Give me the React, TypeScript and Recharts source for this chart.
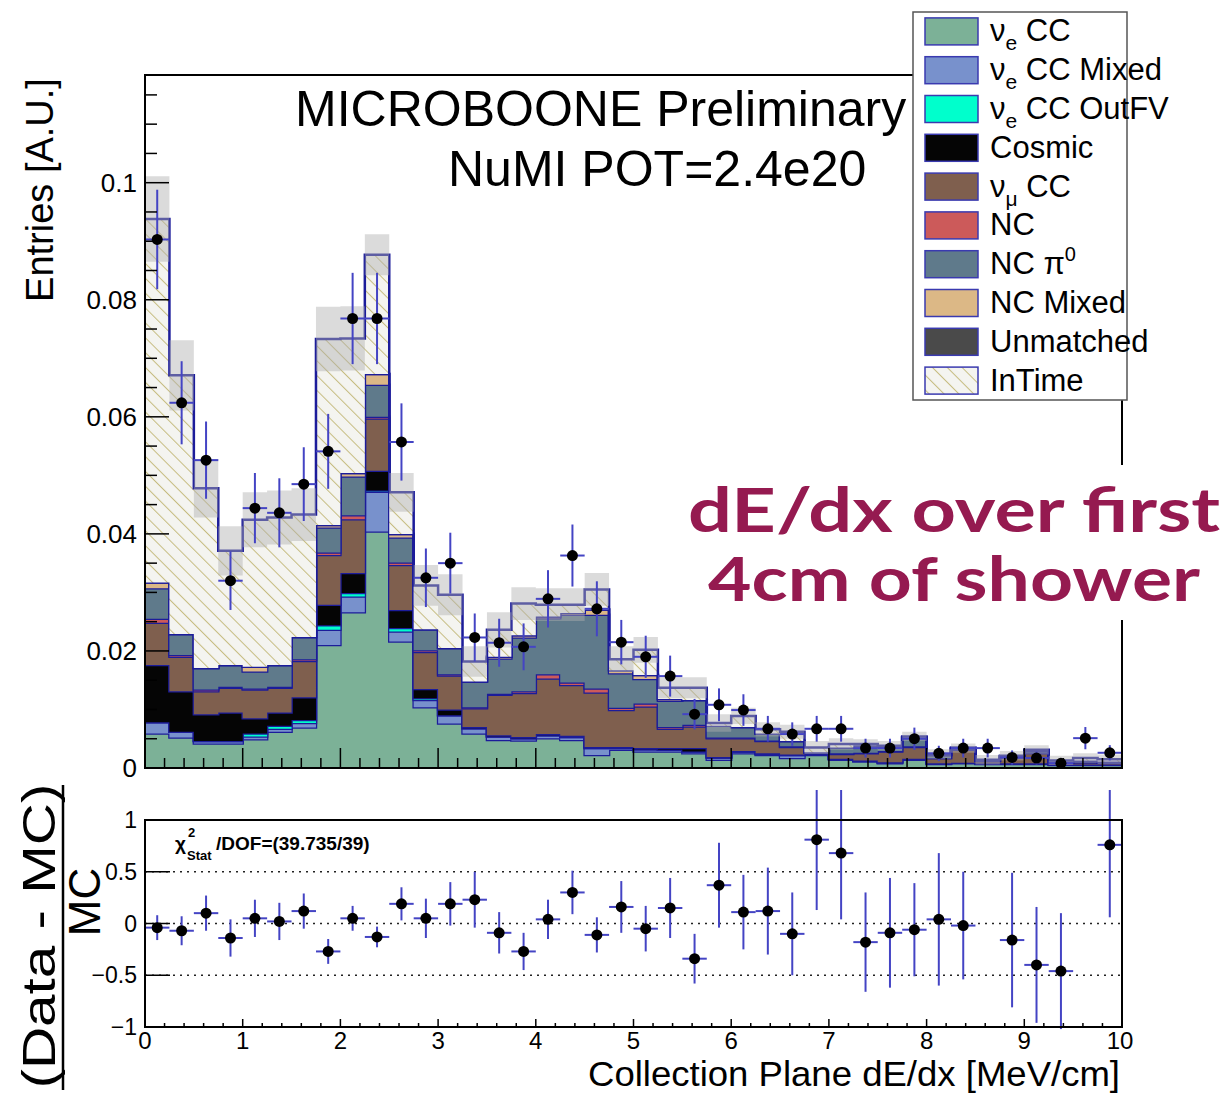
import React from "react";
import { ComposedChart, Area, Scatter, ErrorBar, XAxis, YAxis, ReferenceLine } from "recharts";

// bin edges of the histogram (40 bins, 0.25 MeV/cm wide)
const binEdges = [
  0, 0.25, 0.5, 0.75, 1, 1.25, 1.5, 1.75, 2, 2.25, 2.5, 2.75, 3, 3.25, 3.5, 3.75, 4, 4.25, 4.5, 4.75,
  5, 5.25, 5.5, 5.75, 6, 6.25, 6.5, 6.75, 7, 7.25, 7.5, 7.75, 8, 8.25, 8.5, 8.75, 9, 9.25, 9.5, 9.75, 10,
];

// stacked MC components (per-bin contribution)
const nueCC = [
  0.0059, 0.0052, 0.0042, 0.0042, 0.0049, 0.0062, 0.0069, 0.021, 0.0266, 0.0404,
  0.0216, 0.0104, 0.0076, 0.0059, 0.0048, 0.0047, 0.0051, 0.0048, 0.0022, 0.0031,
  0.0028, 0.0028, 0.0025, 0.0014, 0.0025, 0.0022, 0.0017, 0.0022, 0.0014, 0.0011,
  0.0008, 0.0014, 0.0007, 0.0008, 0.0007, 0.0007, 0.0007, 0.0005, 0.0005, 0.0005,
];
const nueMixed = [
  0.0019, 0.001, 0.0004, 0.0004, 0.0005, 0.0005, 0.0008, 0.0026, 0.0027, 0.0068,
  0.0017, 0.0012, 0.0014, 0.0009, 0.0006, 0.0004, 0.0005, 0.0005, 0.0012, 0.0003,
  0.0004, 0.0003, 0.0003, 0.0004, 0.0003, 0.0002, 0.0005, 0.0002, 0.0002, 0.0002,
  0.0002, 0.0002, 0.0001, 0.0001, 0.0001, 0.0001, 0.0001, 0.0001, 0.0001, 0.0001,
];
const nueOutFV = [
  0, 0, 0, 0, 0.0005, 0.0005, 0.0005, 0.0008, 0.0006, 0.0002,
  0.0006, 0.0003, 0, 0, 0, 0, 0, 0, 0, 0,
  0, 0, 0, 0, 0, 0, 0, 0, 0, 0,
  0, 0, 0, 0, 0, 0, 0, 0, 0, 0,
];
const cosmic = [
  0.0098, 0.0069, 0.0046, 0.0049, 0.0026, 0.0023, 0.0039, 0.0035, 0.0034, 0.0034,
  0.0031, 0.0016, 0.001, 0.0002, 0.0002, 0.0002, 0.0002, 0.0002, 0.0002, 0.0002,
  0.0002, 0.0003, 0.0006, 0.0001, 0.0001, 0.0001, 0.0001, 0, 0, 0,
  0, 0, 0, 0, 0, 0, 0, 0, 0, 0,
];
const numuCC = [
  0.0072, 0.0059, 0.0039, 0.0042, 0.0049, 0.0042, 0.0062, 0.0085, 0.0092, 0.0089,
  0.0077, 0.0063, 0.0058, 0.0032, 0.0069, 0.0075, 0.0095, 0.0087, 0.0093, 0.0063,
  0.0071, 0.0033, 0.0037, 0.0032, 0.0022, 0.0021, 0.0013, 0.0003, 0.0008, 0.0012,
  0.0018, 0.002, 0.0009, 0.0022, 0.0004, 0.001, 0.0017, 0.0003, 0.0004, 0.0003,
];
const nc = [
  0.0007, 0.0003, 0.0003, 0.0002, 0.0002, 0.0002, 0.0003, 0.0004, 0.0007, 0.0003,
  0.0004, 0.0003, 0.0002, 0.0002, 0.0002, 0.0003, 0.0007, 0.0004, 0.0007, 0.0004,
  0.0005, 0.0003, 0.0003, 0.0001, 0.0001, 0.0001, 0.0001, 0, 0.0001, 0.0001,
  0.0001, 0.0001, 0, 0.0001, 0, 0, 0.0001, 0, 0, 0,
];
const ncPi0 = [
  0.0052, 0.0036, 0.0037, 0.0037, 0.0029, 0.0037, 0.0038, 0.0043, 0.0066, 0.0055,
  0.0043, 0.0036, 0.0045, 0.0044, 0.006, 0.0092, 0.0096, 0.0116, 0.0126, 0.0059,
  0.0042, 0.0045, 0.0042, 0.002, 0.0018, 0.0012, 0.0009, 0, 0.001, 0.0013,
  0.0008, 0.0015, 0.0005, 0.0002, 0.0001, 0.0002, 0.0003, 0.0002, 0.0003, 0.0002,
];
const ncMixed = [
  0.001, 0, 0, 0, 0.0008, 0, 0, 0.0004, 0.0006, 0.0018,
  0.0006, 0, 0, 0, 0.0003, 0.0004, 0.0003, 0.0003, 0.0009, 0.0005,
  0.0007, 0.0003, 0, 0, 0, 0, 0, 0, 0, 0,
  0, 0, 0, 0, 0, 0, 0, 0, 0, 0,
];
const unmatched = [
  0, 0, 0, 0, 0, 0, 0, 0, 0, 0,
  0, 0, 0, 0, 0, 0, 0, 0, 0, 0,
  0, 0, 0, 0, 0, 0, 0, 0, 0, 0,
  0, 0, 0, 0, 0, 0, 0, 0, 0, 0,
];
const inTime = [
  0.0621, 0.0442, 0.0307, 0.0195, 0.0251, 0.0252, 0.0209, 0.0318, 0.023, 0.0204,
  0.0071, 0.0075, 0.0091, 0.0034, 0.0046, 0.0054, 0.002, 0.0014, 0.0034, 0.0019,
  0.0043, 0.0019, 0.0021, 0.0005, 0.0019, 0.0007, 0.0016, 0.0008, 0.0006, 0.0002,
  0.0001, 0.0002, 0.0002, 0, 0.0001, 0.0001, 0.0002, 0.0002, 0.0004, 0.0004,
];
// MC stat uncertainty (half width of grey band)
const mcErr = [
  0.0073, 0.006, 0.005, 0.0042, 0.0047, 0.0046, 0.0045, 0.0055, 0.0055, 0.0035,
  0.0033, 0.0035, 0.0035, 0.0026, 0.003, 0.0028, 0.0028, 0.0028, 0.0028, 0.0022,
  0.0022, 0.0018, 0.0018, 0.0015, 0.0014, 0.0012, 0.0012, 0.0011, 0.001, 0.0008,
  0.0008, 0.0008, 0.0008, 0.0008, 0.0008, 0.0008, 0.0008, 0.0008, 0.0008, 0.0008,
];

// data points
const dataVals = [
  0.0903, 0.0624, 0.0526, 0.032, 0.0444, 0.0436, 0.0485, 0.0541, 0.0768, 0.0768,
  0.0557, 0.0325, 0.035, 0.0223, 0.0214, 0.0207, 0.0289, 0.0363, 0.0272, 0.0215,
  0.019, 0.0157, 0.0092, 0.0108, 0.0099, 0.0067, 0.0058, 0.0067, 0.0067, 0.0034,
  0.0034, 0.005, 0.0025, 0.0034, 0.0034, 0.0018, 0.0017, 0.0008, 0.0051, 0.0026,
];
const dataErr = [
  0.0085, 0.0071, 0.0066, 0.005, 0.006, 0.0059, 0.0063, 0.0064, 0.0078, 0.0078,
  0.0066, 0.005, 0.0052, 0.0041, 0.0041, 0.004, 0.0049, 0.0053, 0.0047, 0.0038,
  0.0036, 0.0035, 0.0026, 0.0028, 0.0027, 0.0022, 0.002, 0.0022, 0.0022, 0.0016,
  0.0016, 0.0019, 0.0013, 0.0016, 0.0016, 0.0012, 0.0011, 0.0008, 0.0019, 0.0013,
];

// (Data - MC)/MC, null where off scale
const ratioVals = [
  -0.04, -0.07, 0.1, -0.14, 0.05, 0.02, 0.12, -0.27, 0.05, -0.13,
  0.19, 0.05, 0.19, 0.23, -0.09, -0.27, 0.04, 0.3, -0.11, 0.16,
  -0.05, 0.15, -0.34, 0.37, 0.11, 0.12, -0.1, 0.81, 0.68, -0.18,
  -0.09, -0.06, 0.04, -0.02, null, -0.16, -0.4, -0.46, null, 0.76,
];
const ratioErr = [
  0.12, 0.14, 0.17, 0.18, 0.18, 0.18, 0.17, 0.12, 0.12, 0.1,
  0.16, 0.19, 0.21, 0.27, 0.2, 0.18, 0.19, 0.21, 0.17, 0.25,
  0.22, 0.29, 0.24, 0.41, 0.36, 0.42, 0.4, 0.68, 0.64, 0.48,
  0.53, 0.45, 0.64, 0.52, null, 0.65, 0.56, 0.56, null, 0.7,
];

const mainYTicks = [
  0, 0.005, 0.01, 0.015, 0.02, 0.025, 0.03, 0.035, 0.04, 0.045, 0.05, 0.055,
  0.06, 0.065, 0.07, 0.075, 0.08, 0.085, 0.09, 0.095, 0.1, 0.105, 0.11, 0.115,
];
const xTicks = [
  0, 0.2, 0.4, 0.6, 0.8, 1, 1.2, 1.4, 1.6, 1.8, 2, 2.2, 2.4, 2.6, 2.8, 3, 3.2, 3.4, 3.6, 3.8,
  4, 4.2, 4.4, 4.6, 4.8, 5, 5.2, 5.4, 5.6, 5.8, 6, 6.2, 6.4, 6.6, 6.8, 7, 7.2, 7.4, 7.6, 7.8,
  8, 8.2, 8.4, 8.6, 8.8, 9, 9.2, 9.4, 9.6, 9.8, 10,
];
const ratioYTicks = [-1, -0.5, 0, 0.5, 1];
const ratioYLabels = ["\u22121", "\u22120.5", "0", "0.5", "1"];

const FONT = "'Liberation Sans', Helvetica, Arial, sans-serif";
const EDGE = "#1c1c9a";
const ERR = "#4444c4";
const PL = 145; // plot left
const MAIN_BOTTOM = 768;
const RATIO_BOTTOM = 237; // inside ratio chart

const components = [
  { key: "nueCC", values: nueCC, fill: "#7cb197" },
  { key: "nueMixed", values: nueMixed, fill: "#7891cc" },
  { key: "nueOutFV", values: nueOutFV, fill: "#00ffcc" },
  { key: "cosmic", values: cosmic, fill: "#050505" },
  { key: "numuCC", values: numuCC, fill: "#7f5f4e" },
  { key: "nc", values: nc, fill: "#cc5a5a" },
  { key: "ncPi0", values: ncPi0, fill: "#5f7a8b" },
  { key: "ncMixed", values: ncMixed, fill: "#dcb886" },
  { key: "unmatched", values: unmatched, fill: "#4a4a4a" },
  { key: "inTime", values: inTime, fill: "url(#hatch)" },
];

const histRows = binEdges.map((x, i) => {
  const j = Math.min(i, 39);
  const row: any = { x };
  let total = 0;
  components.forEach((c) => {
    row[c.key] = c.values[j];
    total += c.values[j];
  });
  row.band = [total - mcErr[j], total + mcErr[j]];
  return row;
});

const dataPoints = dataVals.map((v, i) => ({
  x: (binEdges[i] + binEdges[i + 1]) / 2,
  y: v,
  ex: 0.125,
  ey: dataErr[i],
}));

const ratioPoints = ratioVals
  .map((v, i) => ({ x: (binEdges[i] + binEdges[i + 1]) / 2, y: v, ex: 0.125, ey: ratioErr[i] }))
  .filter((p) => p.y !== null);

const isMult = (v: number, step: number) => Math.abs(v / step - Math.round(v / step)) < 1e-6;

const MainYTick = (p: any) => {
  const v = p.payload.value;
  const major = isMult(v, 0.02);
  return (
    <g>
      <line x1={PL} x2={PL + (major ? 24 : 12)} y1={p.y} y2={p.y} stroke="#000" strokeWidth={1.5} />
      {major && (
        <text x={PL - 8} y={p.y + 9} textAnchor="end" fontSize={26} fontFamily={FONT} fill="#000">
          {String(Number(v.toFixed(3)))}
        </text>
      )}
    </g>
  );
};

const MainXTick = (p: any) => {
  const major = isMult(p.payload.value, 1);
  return <line x1={p.x} x2={p.x} y1={MAIN_BOTTOM} y2={MAIN_BOTTOM - (major ? 20 : 10)} stroke="#000" strokeWidth={1.5} />;
};

const RatioXTick = (p: any) => {
  const v = p.payload.value;
  const major = isMult(v, 1);
  return (
    <g>
      <line x1={p.x} x2={p.x} y1={RATIO_BOTTOM} y2={RATIO_BOTTOM - (major ? 8 : 4)} stroke="#000" strokeWidth={1.5} />
      {major && (
        <text x={v === 10 ? p.x - 2 : p.x} y={RATIO_BOTTOM + 22} textAnchor="middle" fontSize={24} fontFamily={FONT} fill="#000">
          {String(Math.round(v))}
        </text>
      )}
    </g>
  );
};

const RatioYTick = (p: any) => {
  const v = p.payload.value;
  const idx = ratioYTicks.indexOf(v);
  return (
    <g>
      <line x1={PL} x2={PL + 25} y1={p.y} y2={p.y} stroke="#000" strokeWidth={1.5} />
      <text x={PL - 8} y={p.y + 8} textAnchor="end" fontSize={23} fontFamily={FONT} fill="#000">
        {ratioYLabels[idx]}
      </text>
    </g>
  );
};

const DataDot = (p: any) => <circle cx={p.cx} cy={p.cy} r={5.5} fill="#000" />;

const legendRows = [
  { label: "nue", sub: "e", text: " CC", key: "nueCC" },
  { label: "nue", sub: "e", text: " CC Mixed", key: "nueMixed" },
  { label: "nue", sub: "e", text: " CC OutFV", key: "nueOutFV" },
  { label: "plain", text: "Cosmic", key: "cosmic" },
  { label: "num", sub: "\u03bc", text: " CC", key: "numuCC" },
  { label: "plain", text: "NC", key: "nc" },
  { label: "pi", text: "NC \u03c0", key: "ncPi0" },
  { label: "plain", text: "NC Mixed", key: "ncMixed" },
  { label: "plain", text: "Unmatched", key: "unmatched" },
  { label: "plain", text: "InTime", key: "inTime" },
];

const LEG_FS = 31;

function LegendText({ row, y }: any) {
  if (row.label === "plain") {
    return (
      <text x={990} y={y} fontSize={LEG_FS} fontFamily={FONT}>
        {row.text}
      </text>
    );
  }
  if (row.label === "pi") {
    return (
      <text x={990} y={y} fontSize={LEG_FS} fontFamily={FONT}>
        {row.text}
        <tspan dy={-13} fontSize={20}>0</tspan>
      </text>
    );
  }
  return (
    <text x={990} y={y} fontSize={LEG_FS} fontFamily={FONT}>
      {"\u03bd"}
      <tspan dy={9} fontSize={21}>{row.sub}</tspan>
      <tspan dy={-9}>{row.text}</tspan>
    </text>
  );
}

export default function App() {
  const legendTop = 12;
  const rowH = 38.8;
  return (
    <div style={{ position: "absolute", left: 0, top: 0, width: 1225, height: 1094, background: "#fff" }}>
      <svg width={0} height={0} style={{ position: "absolute" }}>
        <defs>
          <pattern id="hatch" patternUnits="userSpaceOnUse" width={10.5} height={10.5} patternTransform="rotate(-45)">
            <rect x={0} y={0} width={10.5} height={10.5} fill="#f4f4f0" />
            <line x1={0} y1={0} x2={0} y2={10.5} stroke="#c6bc80" strokeWidth={2} />
          </pattern>
        </defs>
      </svg>

      <div style={{ position: "absolute", left: 0, top: 0 }}>
        <ComposedChart width={1225} height={790} data={histRows} margin={{ top: 75, right: 103, bottom: 2, left: 95 }}>
          <XAxis
            dataKey="x"
            type="number"
            domain={[0, 10]}
            ticks={xTicks}
            interval={0}
            height={20}
            axisLine={false}
            tickLine={false}
            tick={MainXTick}
            allowDataOverflow
          />
          <YAxis
            type="number"
            domain={[0, 0.1184]}
            ticks={mainYTicks}
            interval={0}
            width={50}
            axisLine={false}
            tickLine={false}
            tick={MainYTick}
            allowDataOverflow
          />
          {components.map((c) => (
            <Area
              key={c.key}
              type="stepAfter"
              dataKey={c.key}
              stackId="mc"
              fill={c.fill}
              fillOpacity={1}
              stroke={EDGE}
              strokeWidth={2.5}
              dot={false}
              activeDot={false}
              isAnimationActive={false}
            />
          ))}
          <Area
            type="stepAfter"
            dataKey="band"
            fill="#b0b0b0"
            fillOpacity={0.45}
            stroke="none"
            dot={false}
            activeDot={false}
            isAnimationActive={false}
          />
          <Scatter data={dataPoints} dataKey="y" shape={DataDot} isAnimationActive={false}>
            <ErrorBar dataKey="ex" direction="x" width={0} stroke={ERR} strokeWidth={2} />
            <ErrorBar dataKey="ey" direction="y" width={0} stroke={ERR} strokeWidth={2} />
          </Scatter>
        </ComposedChart>
      </div>

      <div style={{ position: "absolute", left: 0, top: 790 }}>
        <ComposedChart width={1225} height={304} data={ratioPoints} margin={{ top: 30, right: 103, bottom: 27, left: 95 }}>
          <XAxis
            dataKey="x"
            type="number"
            domain={[0, 10]}
            ticks={xTicks}
            interval={0}
            height={40}
            axisLine={false}
            tickLine={false}
            tick={RatioXTick}
            allowDataOverflow
          />
          <YAxis
            type="number"
            domain={[-1, 1]}
            ticks={ratioYTicks}
            interval={0}
            width={50}
            axisLine={false}
            tickLine={false}
            tick={RatioYTick}
            allowDataOverflow
          />
          <ReferenceLine y={0.5} stroke="#222" strokeWidth={1.5} strokeDasharray="2 5" />
          <ReferenceLine y={0} stroke="#222" strokeWidth={1.5} strokeDasharray="2 5" />
          <ReferenceLine y={-0.5} stroke="#222" strokeWidth={1.5} strokeDasharray="2 5" />
          <Scatter dataKey="y" shape={DataDot} isAnimationActive={false}>
            <ErrorBar dataKey="ex" direction="x" width={0} stroke={ERR} strokeWidth={2} />
            <ErrorBar dataKey="ey" direction="y" width={0} stroke={ERR} strokeWidth={2} />
          </Scatter>
        </ComposedChart>
      </div>

      <svg width={1225} height={1094} style={{ position: "absolute", left: 0, top: 0, pointerEvents: "none" }}>
        {/* frames */}
        <rect x={PL} y={75} width={977} height={693} fill="none" stroke="#000" strokeWidth={2} />
        <rect x={PL} y={820} width={977} height={207} fill="none" stroke="#000" strokeWidth={2} />

        {/* titles */}
        <text x={295} y={126} fontSize={50} fontFamily={FONT}>MICROBOONE Preliminary</text>
        <text x={448} y={186} fontSize={50} fontFamily={FONT}>NuMI POT=2.4e20</text>

        {/* annotation */}
        <rect x={684} y={465} width={541} height={155} fill="#fff" />
        <text x={954} y={532} textAnchor="middle" fontSize={62} fontWeight={700} fontFamily="Lato, 'Open Sans', sans-serif" fill="#951a50" textLength={532} lengthAdjust="spacingAndGlyphs">
          dE/dx over first
        </text>
        <text x={954} y={601} textAnchor="middle" fontSize={62} fontWeight={700} fontFamily="Lato, 'Open Sans', sans-serif" fill="#951a50" textLength={492} lengthAdjust="spacingAndGlyphs">
          4cm of shower
        </text>

        {/* axis titles */}
        <text transform="translate(53,190) rotate(-90)" textAnchor="middle" fontSize={38} fontFamily={FONT}>
          Entries [A.U.]
        </text>
        <text transform="translate(55,936) rotate(-90)" textAnchor="middle" fontSize={46} fontFamily={FONT} textLength={305} lengthAdjust="spacingAndGlyphs">
          (Data - MC)
        </text>
        <line x1={63} x2={63} y1={785} y2={1090} stroke="#000" strokeWidth={2.5} />
        <text transform="translate(100,902) rotate(-90)" textAnchor="middle" fontSize={44} fontFamily={FONT}>
          MC
        </text>
        <text x={1120} y={1086} textAnchor="end" fontSize={35} fontFamily={FONT} textLength={532} lengthAdjust="spacingAndGlyphs">
          Collection Plane dE/dx [MeV/cm]
        </text>

        {/* chi2 */}
        <text x={175} y={850} fontSize={19} fontWeight={700} fontFamily={FONT}>
          {"\u03c7"}
        </text>
        <text x={188} y={837} fontSize={13} fontWeight={700} fontFamily={FONT}>2</text>
        <text x={187} y={860} fontSize={13} fontWeight={700} fontFamily={FONT}>Stat</text>
        <text x={216} y={850} fontSize={19} fontWeight={700} fontFamily={FONT}>/DOF=(39.735/39)</text>

        {/* legend */}
        <rect x={913} y={legendTop} width={214} height={388} fill="#fff" stroke="#555" strokeWidth={1.5} />
        {legendRows.map((row, i) => {
          const c = components.find((k) => k.key === row.key)!;
          const cy = legendTop + rowH * (i + 0.5);
          return (
            <g key={row.key}>
              <rect x={925} y={cy - 13.5} width={53} height={27} fill={c.fill} stroke="#3a3ab0" strokeWidth={1.5} />
              <LegendText row={row} y={cy + 10} />
            </g>
          );
        })}
      </svg>
    </div>
  );
}
